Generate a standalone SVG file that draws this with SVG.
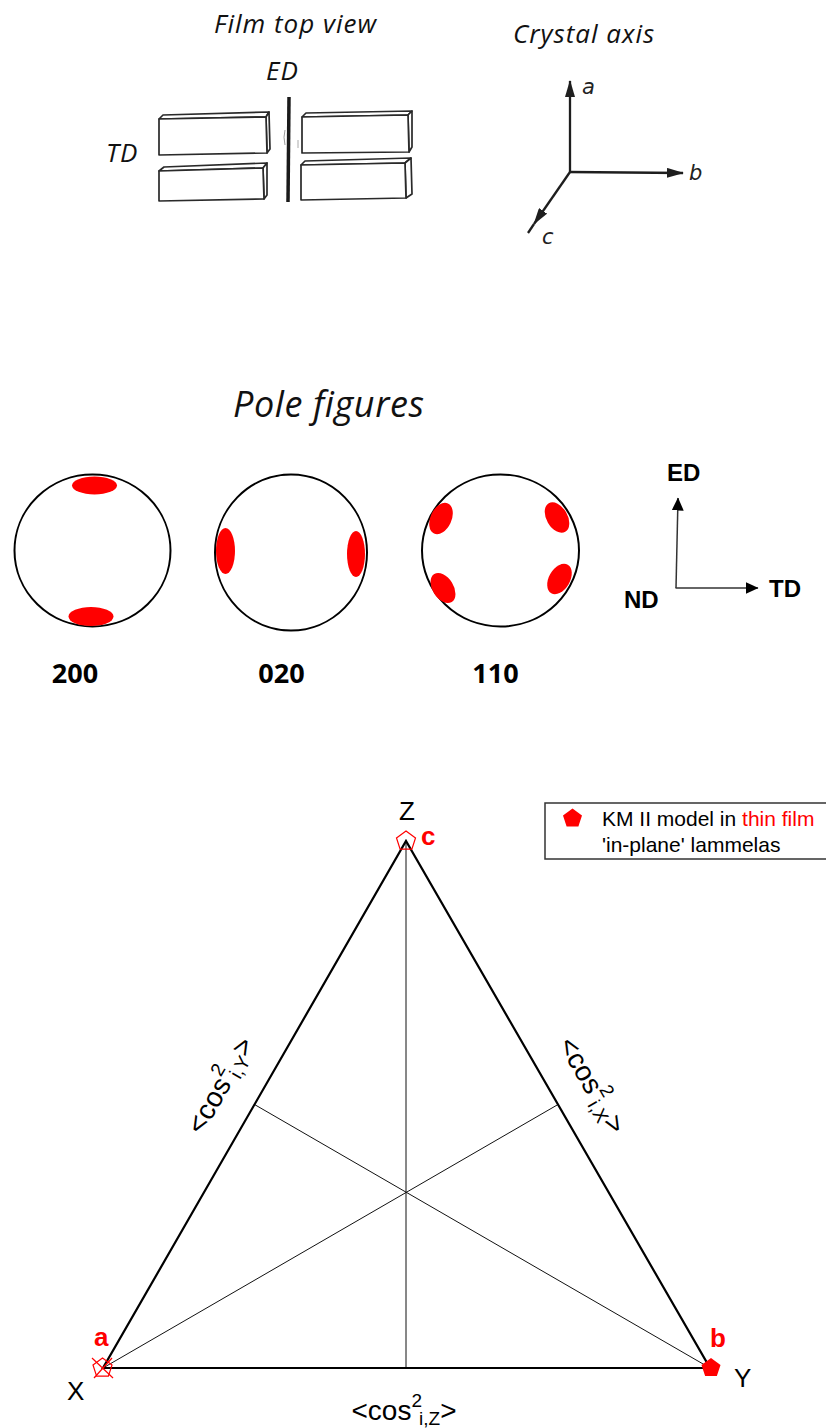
<svg xmlns="http://www.w3.org/2000/svg" width="826" height="1428" viewBox="0 0 826 1428">
  <defs>
    <style>
      .it { font-family: "Open Sans", "Noto Sans", sans-serif; font-style: italic; fill: #111; }
      .hand { font-family: "DejaVu Sans", "Liberation Sans", sans-serif; font-style: italic; font-size: 21px; fill: #222; }
      .pf-lbl { font-family: "Open Sans", "Noto Sans", sans-serif; font-weight: bold; font-size: 27px; text-anchor: middle; fill: #000; }
      .ax-lbl { font-family: "Liberation Sans", Arial, sans-serif; font-weight: bold; font-size: 24px; fill: #000; }
      .box { fill: #fff; stroke: #2a2a2a; stroke-width: 1.7; stroke-linejoin: round; }
      .pole { fill: #fff; stroke: #000; stroke-width: 2; }
      .spot { fill: #ff0000; }
      .sketch { stroke: #1e1e1e; stroke-width: 2.3; fill: none; }
      .guide { stroke: #333; stroke-width: 1.5; fill: none; }
      .side { stroke: #000; stroke-width: 2.2; fill: none; stroke-linejoin: miter; }
      .median { stroke: #111; stroke-width: 1; }
      .vtx { font-family: "Liberation Sans", Arial, sans-serif; font-size: 26px; fill: #000; }
      .red-b { font-family: "Liberation Sans", Arial, sans-serif; font-weight: bold; font-size: 26px; fill: #ff0000; }
      .cos { font-family: "Liberation Sans", Arial, sans-serif; font-size: 28px; text-anchor: middle; fill: #000; }
      .leg { font-family: "Liberation Sans", Arial, sans-serif; font-size: 21px; fill: #000; }
      .mk-open { fill: none; stroke: #ff0000; stroke-width: 1.2; }
      .mk-fill { fill: #ff0000; }
    </style>
    <path id="penta" d="M0,-10 L9.51,-3.09 L5.88,8.09 L-5.88,8.09 L-9.51,-3.09 Z"/>
    <marker id="head-sketch" viewBox="0 0 17 10" refX="16" refY="5" markerWidth="17" markerHeight="10" markerUnits="userSpaceOnUse" orient="auto">
      <path d="M0,0 L17,5 L0,10 Z" fill="#1e1e1e"/>
    </marker>
    <marker id="head-axis" viewBox="0 0 13 12" refX="12.5" refY="6" markerWidth="13" markerHeight="12" markerUnits="userSpaceOnUse" orient="auto">
      <path d="M0,0 L13,6 L0,12 Z" fill="#000"/>
    </marker>
  </defs>

  <rect width="826" height="1428" fill="#fff"/>

  <!-- Film top view: stacked lamellae either side of the ED line -->
  <g id="film-top-view">
    <text class="it" x="214" y="33" font-size="26" letter-spacing="1">Film top view</text>
    <text class="it" x="266" y="80" font-size="26" letter-spacing="1">ED</text>
    <text class="it" x="106" y="162" font-size="26" letter-spacing="1">TD</text>
    <g id="lamella-tl">
      <path class="box" d="M159,119 L163,115 L269,112 L266,117 Z"/>
      <path class="box" d="M266,117 L269,112 L270,149 L267,153 Z"/>
      <path class="box" d="M159,119 L266,117 L267,153 L159,155 Z"/>
    </g>
    <g id="lamella-bl">
      <path class="box" d="M159,171 L164,167 L267,163 L263,168 Z"/>
      <path class="box" d="M263,168 L267,163 L267,195 L264,199 Z"/>
      <path class="box" d="M159,171 L263,168 L264,199 L159,201 Z"/>
    </g>
    <g id="lamella-tr">
      <path class="box" d="M302,117 L306,113 L412,111 L408,115 Z"/>
      <path class="box" d="M408,115 L412,111 L412,147 L409,152 Z"/>
      <path class="box" d="M302,117 L408,115 L409,152 L302,153 Z"/>
    </g>
    <g id="lamella-br">
      <path class="box" d="M301,165 L305,161 L411,158 L405,163 Z"/>
      <path class="box" d="M405,163 L411,158 L412,194 L406,198 Z"/>
      <path class="box" d="M301,165 L405,163 L406,198 L301,200 Z"/>
    </g>
    <line x1="289" y1="97" x2="288" y2="202" stroke="#1a1a1a" stroke-width="3.5"/>
    <path d="M285,130 Q283,137 285,145" fill="none" stroke="#999" stroke-width="1"/>
    <path d="M298,140 L298,148" fill="none" stroke="#aaa" stroke-width="1"/>
  </g>

  <!-- Crystal axes -->
  <g id="crystal-axis">
    <text class="it" x="513" y="43" font-size="26" letter-spacing="1">Crystal axis</text>
    <text class="hand" x="582" y="94">a</text>
    <text class="hand" x="689" y="180">b</text>
    <text class="hand" x="542" y="244">c</text>
  </g>

  <!-- Pole figures -->
  <g id="pole-figures-title">
    <text class="it" x="233" y="417" font-size="36" letter-spacing="0.6">Pole figures</text>
  </g>
  <g id="pole-200">
    <ellipse class="pole" cx="92.5" cy="550.5" rx="78" ry="76"/>
    <ellipse class="spot" cx="94.5" cy="485.5" rx="22.5" ry="9"/>
    <ellipse class="spot" cx="91" cy="616.5" rx="22.5" ry="9.5"/>
    <text class="pf-lbl" x="75" y="683">200</text>
  </g>
  <g id="pole-020">
    <ellipse class="pole" cx="291" cy="552.5" rx="76" ry="78"/>
    <ellipse class="spot" cx="225.5" cy="551" rx="9.5" ry="23"/>
    <ellipse class="spot" cx="356" cy="554" rx="9" ry="23"/>
    <text class="pf-lbl" x="281.5" y="683">020</text>
  </g>
  <g id="pole-110">
    <ellipse class="pole" cx="500.5" cy="550.5" rx="78.5" ry="76"/>
    <ellipse class="spot" cx="441" cy="518.5" rx="10.5" ry="16.5" transform="rotate(25 441 518.5)"/>
    <ellipse class="spot" cx="557" cy="517.5" rx="10.5" ry="16.5" transform="rotate(-30 557 517.5)"/>
    <ellipse class="spot" cx="443" cy="588" rx="10.5" ry="16.5" transform="rotate(-32 443 588)"/>
    <ellipse class="spot" cx="559.5" cy="579" rx="10.5" ry="16.5" transform="rotate(30 559.5 579)"/>
    <text class="pf-lbl" x="495.5" y="683">110</text>
  </g>
  <g id="sample-axes">
    <text class="ax-lbl" x="667" y="481">ED</text>
    <text class="ax-lbl" x="769" y="597">TD</text>
    <text class="ax-lbl" x="624" y="608">ND</text>
  </g>

  <!-- Arrows -->
  <g id="connectors">
    <line class="sketch" x1="570" y1="172" x2="570" y2="81" marker-end="url(#head-sketch)"/>
    <line class="sketch" x1="569" y1="172" x2="683" y2="173" marker-end="url(#head-sketch)"/>
    <line class="sketch" x1="570" y1="172" x2="534" y2="224" marker-end="url(#head-sketch)"/>
    <line class="sketch" x1="534" y1="224" x2="528" y2="233"/>
    <line class="guide" x1="676" y1="588" x2="678" y2="498" marker-end="url(#head-axis)"/>
    <line class="guide" x1="675.5" y1="588" x2="758" y2="588" marker-end="url(#head-axis)"/>
  </g>

  <!-- Orientation triangle -->
  <g id="triangle">
    <line class="median" x1="406" y1="841" x2="406" y2="1368"/>
    <line class="median" x1="103" y1="1368" x2="558" y2="1104.5"/>
    <line class="median" x1="710" y1="1368" x2="254.5" y2="1104.5"/>
    <path class="side" d="M103,1368 L710,1368 L406,841 Z"/>
    <text class="vtx" x="67" y="1400">X</text>
    <text class="vtx" x="734" y="1387">Y</text>
    <text class="vtx" x="399" y="820">Z</text>
    <text class="cos" x="404" y="1420">&lt;cos<tspan font-size="19" dy="-13">2</tspan><tspan font-size="19" dx="-3" dy="18">i,Z</tspan><tspan dy="-5">&gt;</tspan></text>
    <text class="cos" transform="translate(228.5 1090) rotate(-60)">&lt;cos<tspan font-size="19" dy="-13">2</tspan><tspan font-size="19" dx="-3" dy="18">i,Y</tspan><tspan dy="-5">&gt;</tspan></text>
    <text class="cos" transform="translate(584 1090) rotate(60)">&lt;cos<tspan font-size="19" dy="-13">2</tspan><tspan font-size="19" dx="-3" dy="18">i,X</tspan><tspan dy="-5">&gt;</tspan></text>
  </g>

  <!-- Crystal axis positions on the triangle -->
  <g id="point-a">
    <use href="#penta" class="mk-open" transform="translate(102.5 1368)"/>
    <line x1="92" y1="1358" x2="113" y2="1378" stroke="#ff0000" stroke-width="1.2"/>
    <line x1="94" y1="1378" x2="112" y2="1358" stroke="#ff0000" stroke-width="1.2"/>
    <text class="red-b" x="94" y="1346">a</text>
  </g>
  <g id="point-b">
    <use href="#penta" class="mk-fill" transform="translate(711 1368)"/>
    <text class="red-b" x="710" y="1347">b</text>
  </g>
  <g id="point-c">
    <use href="#penta" class="mk-open" transform="translate(406 841)"/>
    <text class="red-b" x="421" y="845">c</text>
  </g>

  <!-- Legend -->
  <g id="legend">
    <rect x="545" y="803" width="290" height="56" fill="#fff" stroke="#333" stroke-width="1.5"/>
    <use href="#penta" class="mk-fill" transform="translate(572.5 818.5)"/>
    <text class="leg" x="602" y="826">KM II model in <tspan fill="#ff0000">thin film</tspan></text>
    <text class="leg" x="602" y="852">'in-plane' lammelas</text>
  </g>
</svg>
